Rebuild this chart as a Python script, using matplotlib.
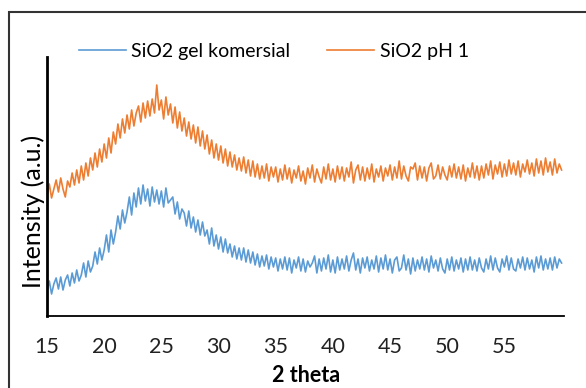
import numpy as np
import matplotlib
matplotlib.use("Agg")
import matplotlib.pyplot as plt
from matplotlib.patches import Rectangle

# 2 theta grid (0.2 deg steps, 15 -> 60)
two_theta = np.arange(15.0, 60.001, 0.2)

# intensities (arbitrary units, one row per degree)
sio2_komersial = [
    24, 35, 22, 32, 38,  27, 39, 26, 36, 41,  30, 43, 33, 46, 35,
    41, 53, 39, 55, 44,  50, 64, 52, 68, 56,  66, 81, 64, 86, 72,
    84, 100, 87, 106, 93,  104, 119, 101, 123, 109,  128, 112, 131, 115, 127,
    110, 129, 114, 126, 112,  125, 109, 128, 113, 116,  119, 102, 114, 97, 107,
    103, 90, 105, 88, 99,  84, 96, 81, 94, 80,  86, 72, 88, 70, 81,
    67, 79, 64, 77, 63,  72, 59, 70, 57, 68,  56, 68, 54, 66, 53,
    64, 51, 62, 49, 60,  50, 61, 47, 59, 49,  58, 45, 57, 47, 59,
    46, 58, 43, 56, 48,  59, 45, 57, 44, 55,  49, 53, 60, 43, 57,
    45, 58, 47, 61, 44,  56, 43, 59, 46, 57,  47, 60, 45, 56, 63,
    46, 57, 43, 58, 48,  59, 45, 56, 47, 60,  44, 58, 47, 61, 46,
    57, 43, 56, 59, 45,  48, 61, 46, 57, 42,  58, 45, 56, 47, 59,
    46, 57, 44, 60, 48,  56, 45, 58, 47, 43,  57, 46, 59, 45, 56,
    47, 58, 44, 57, 46,  59, 46, 56, 45, 58,  48, 44, 57, 47, 60,
    46, 58, 48, 44, 57,  49, 60, 46, 58, 47,  45, 57, 48, 59, 46,
    58, 47, 56, 44, 59,  48, 60, 46, 57, 47,  58, 46, 59, 48, 57,
    53,
]

sio2_ph1 = [
    120, 132, 118, 127, 136,  124, 138, 127, 119, 135,  129, 143, 131, 146, 133,
    150, 136, 153, 140, 158,  146, 163, 149, 167, 154,  172, 158, 178, 163, 184,
    172, 192, 178, 197, 183,  201, 187, 206, 190, 203,  210, 194, 213, 198, 215,
    200, 217, 203, 231, 206,  216, 197, 219, 201, 212,  193, 209, 188, 204, 185,
    198, 180, 194, 177, 191,  173, 189, 170, 185, 167,  181, 162, 176, 158, 172,
    156, 170, 153, 167, 150,  164, 149, 161, 146, 158,  145, 159, 143, 156, 140,
    155, 139, 152, 137, 150,  138, 152, 135, 149, 139,  149, 134, 147, 136, 151,
    137, 148, 133, 146, 138,  150, 135, 145, 132, 148,  138, 151, 134, 147, 139,
    133, 149, 137, 152, 136,  147, 134, 150, 137, 149,  135, 148, 139, 154, 133,
    146, 151, 136, 149, 135,  148, 137, 152, 134, 147,  139, 150, 135, 148, 140,
    151, 136, 149, 138, 155,  137, 150, 140, 135, 149,  147, 153, 136, 150, 138,
    149, 135, 148, 153, 137,  140, 151, 137, 149, 141,  136, 150, 139, 152, 138,
    149, 137, 151, 135, 148,  139, 153, 138, 150, 136,  150, 138, 152, 141, 155,
    137, 151, 142, 154, 139,  152, 140, 156, 142, 153,  141, 155, 139, 152, 144,
    156, 142, 153, 140, 157,  143, 155, 141, 158, 144,  154, 141, 157, 143, 152,
    146,
]

series_labels = ["SiO2 gel komersial", "SiO2 pH 1"]
series_colors = ["#5B9BD5", "#ED7D31"]
x_ticks = [15, 20, 25, 30, 35, 40, 45, 50, 55]

plt.rcParams['font.family'] = ['Lato', 'DejaVu Sans']

fig = plt.figure(figsize=(5.86, 3.88), dpi=100, facecolor='white')
ax = fig.add_axes([0.0802, 0.1856, 0.882, 0.6675])

for vals, lab, col in zip([sio2_komersial, sio2_ph1], series_labels, series_colors):
    ax.plot(two_theta, vals, color=col, lw=1.2, label=lab)

ax.set_xlim(15, 60.2)
ax.set_ylim(0, 259)
ax.set_xticks(x_ticks)
ax.set_xticklabels([str(t) for t in x_ticks])
ax.set_yticks([])
ax.tick_params(axis='x', length=0, pad=15, labelsize=15.5, labelcolor='#222222')
for s in ['top', 'right']:
    ax.spines[s].set_visible(False)
ax.spines['left'].set_linewidth(2.0)
ax.spines['bottom'].set_linewidth(1.3)

fig.text(306 / 586, 1 - 376 / 388, "2 theta", ha='center', va='center',
         fontsize=15.5, fontweight='bold')
fig.text(33 / 586, 1 - 211 / 388, "Intensity (a.u.)", ha='center', va='center',
         rotation=90, fontsize=18)

fig.legend(loc='center', bbox_to_anchor=(274 / 586, 1 - 51 / 388), ncol=2,
           frameon=False, fontsize=14, handlelength=2.4, handletextpad=0.3,
           columnspacing=1.9)

# outer chart border (runs off the right and bottom edges)
fig.patches.append(Rectangle((9 / 586, -0.1), 1.2, 1 - 12 / 388 + 0.1,
                             transform=fig.transFigure, fill=False,
                             edgecolor='#333333', lw=1.5, clip_on=False))

fig.savefig("out.png", dpi=100, facecolor='white')
